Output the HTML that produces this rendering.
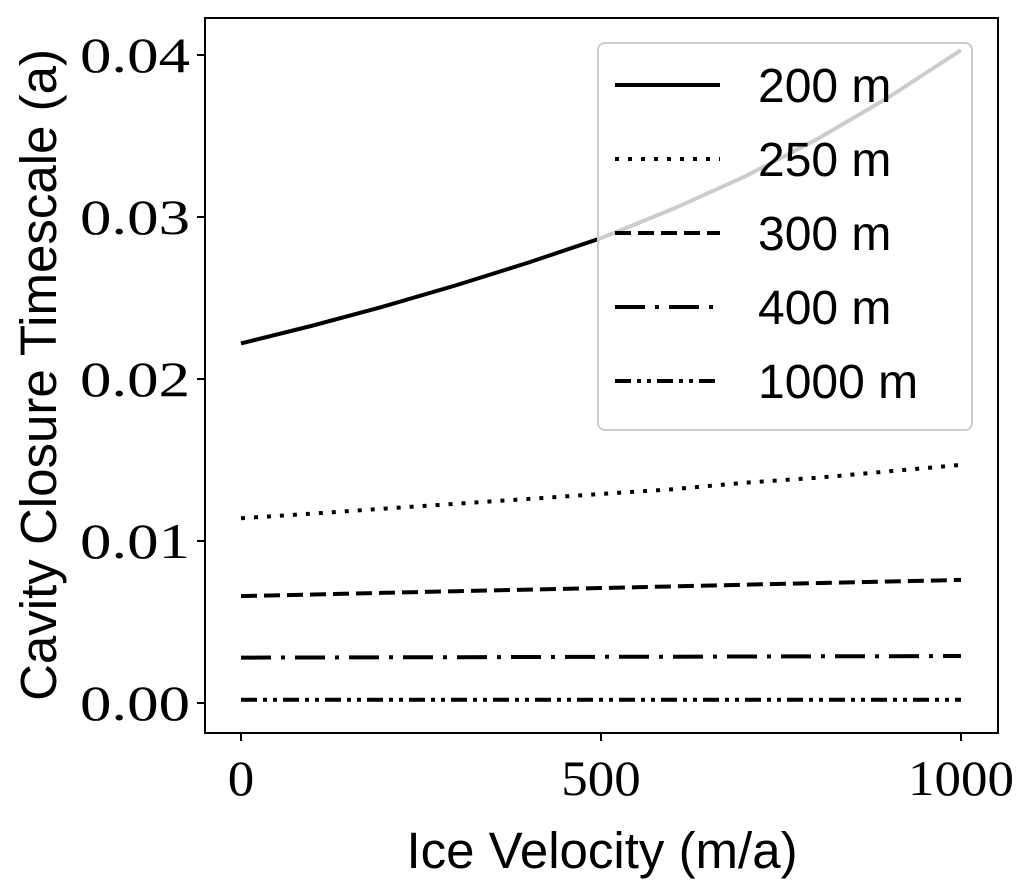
<!DOCTYPE html>
<html><head><meta charset="utf-8">
<style>
body{margin:0;background:#fff;}
svg{display:block;}
.tick{font-family:"Liberation Serif",serif;font-size:50px;fill:#000;}
.lab{font-family:"Liberation Sans",sans-serif;font-size:51px;fill:#000;}
.leg{font-family:"Liberation Sans",sans-serif;font-size:48px;fill:#000;}
</style></head>
<body>
<svg id="chart" width="1033" height="895" xmlns="http://www.w3.org/2000/svg">
<rect x="205" y="18" width="793" height="715" fill="none" stroke="#000" stroke-width="2"/>
<g id="ticks"></g>
<g id="series"></g>
<g id="legend"></g>
<text class="lab" x="602" y="868" text-anchor="middle">Ice Velocity (m/a)</text>
<text class="lab" transform="translate(56,375) rotate(-90)" text-anchor="middle">Cavity Closure Timescale (a)</text>
</svg>
<script>
const velocities=[0,100,200,300,400,500,600,700,800,900,1000];
const s200=[0.0222,0.0233,0.0245,0.0258,0.0272,0.0287,0.0305,0.0325,0.0348,0.0374,0.0403];
const s250=[0.0114,0.0117,0.0120,0.0123,0.0126,0.0129,0.0132,0.0136,0.0139,0.0143,0.0147];
const s300=[0.0066,0.0067,0.0068,0.0069,0.0070,0.0071,0.0072,0.0073,0.0074,0.0075,0.0076];
const s400=[0.00280,0.00281,0.00282,0.00283,0.00284,0.00285,0.00286,0.00287,0.00288,0.00289,0.00290];
const s1000=[0.0002,0.0002,0.0002,0.0002,0.0002,0.0002,0.0002,0.0002,0.0002,0.0002,0.0002];
const seriesNames=["200 m","250 m","300 m","400 m","1000 m"];
const xTicks=[0,500,1000];
const yTicks=[0,0.01,0.02,0.03,0.04];
const yTickLabels=["0.00","0.01","0.02","0.03","0.04"];
const NS="http://www.w3.org/2000/svg";
function X(v){return 241+v*0.72;}
function Y(v){return 703-v*16200;}
function mk(tag,attrs,parent){const e=document.createElementNS(NS,tag);for(const k in attrs)e.setAttribute(k,attrs[k]);parent.appendChild(e);return e;}
const tg=document.getElementById('ticks');
xTicks.forEach((t,i)=>{
  const l=mk('line',{x1:X(t),x2:X(t),y1:733,y2:741,stroke:'#000','stroke-width':2},tg);
  
  
  const s=String(t);
  const tx=mk('text',{x:X(t),y:795,'text-anchor':'middle',class:'tick',textLength:s.length*26.5,lengthAdjust:'spacingAndGlyphs'},tg);
  tx.textContent=s;
  
  
});
yTicks.forEach((t,i)=>{
  const l=mk('line',{x1:197,x2:205,y1:Y(t),y2:Y(t),stroke:'#000','stroke-width':2},tg);
  
  
  const tx=mk('text',{x:190,y:Y(t)+17,'text-anchor':'end',class:'tick',textLength:110,lengthAdjust:'spacingAndGlyphs'},tg);
  tx.textContent=yTickLabels[i];
  
  
});
const data=[s200,s250,s300,s400,s1000];
const dashes=["none","4,9","16,7","30,10,4,10","16,6,4,6,4,6"];
const sg=document.getElementById('series');
data.forEach((s,i)=>{
  const d=s.map((v,j)=>(j?'L':'M')+X(velocities[j]).toFixed(1)+','+Y(v).toFixed(1)).join(' ');
  const p=mk('path',{d:d,fill:'none',stroke:'#000','stroke-width':4,'stroke-dasharray':dashes[i]},sg);
  
  
});
const lg=document.getElementById('legend');
const box=mk('rect',{x:598,y:43,width:374,height:387,rx:7,fill:'#fff','fill-opacity':0.8,stroke:'#ccc','stroke-width':2},lg);


seriesNames.forEach((n,i)=>{
  const y=85+i*74;
  const l=mk('line',{x1:615,x2:720,y1:y,y2:y,stroke:'#000','stroke-width':4,'stroke-dasharray':dashes[i]},lg);
  
  
  const t=mk('text',{x:758,y:y+17,class:'leg'},lg);
  t.textContent=n;
  
  
});
</script>
</body></html>
